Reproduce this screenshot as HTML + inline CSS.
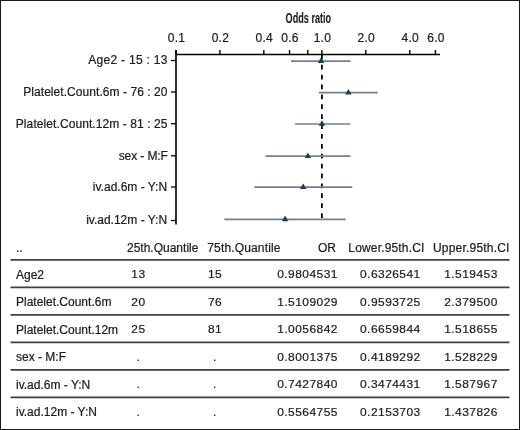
<!DOCTYPE html>
<html><head><meta charset="utf-8"><style>
html,body{margin:0;padding:0;background:#fff;}
body{width:520px;height:430px;overflow:hidden;}
svg{display:block;will-change:transform;}
text{font-family:"Liberation Sans",sans-serif;fill:#1c1c1c;stroke:#1c1c1c;stroke-width:0.22px;}
.tk{font-size:12px;letter-spacing:0.25px;}
.lb{font-size:12px;}
.tb{font-size:12px;}
.tn{font-size:12px;letter-spacing:0.45px;}
.ti{font-size:14.8px;font-weight:bold;fill:#222;stroke:#222;stroke-width:0.1px;}
</style></head><body>
<svg width="520" height="430" viewBox="0 0 520 430">
<rect x="0.5" y="0.5" width="519" height="429" fill="#fff" stroke="#1a1a1a" stroke-width="1"/>
<line x1="176.0" y1="54.5" x2="440" y2="54.5" stroke="#000" stroke-width="1.7"/>
<line x1="176.0" y1="50" x2="176.0" y2="224.6" stroke="#1a1a1a" stroke-width="1.8"/>
<line x1="176.00" y1="50" x2="176.00" y2="54.5" stroke="#000" stroke-width="1.4"/>
<text x="176.50" y="41.7" text-anchor="middle" class="tk">0.1</text>
<line x1="219.92" y1="50" x2="219.92" y2="54.5" stroke="#000" stroke-width="1.4"/>
<text x="220.42" y="41.7" text-anchor="middle" class="tk">0.2</text>
<line x1="263.84" y1="50" x2="263.84" y2="54.5" stroke="#000" stroke-width="1.4"/>
<text x="264.34" y="41.7" text-anchor="middle" class="tk">0.4</text>
<line x1="289.53" y1="50" x2="289.53" y2="54.5" stroke="#000" stroke-width="1.4"/>
<text x="290.03" y="41.7" text-anchor="middle" class="tk">0.6</text>
<line x1="307.76" y1="50" x2="307.76" y2="54.5" stroke="#000" stroke-width="1.4"/>
<line x1="321.90" y1="50" x2="321.90" y2="54.5" stroke="#000" stroke-width="1.4"/>
<text x="322.40" y="41.7" text-anchor="middle" class="tk">1.0</text>
<line x1="365.82" y1="50" x2="365.82" y2="54.5" stroke="#000" stroke-width="1.4"/>
<text x="366.32" y="41.7" text-anchor="middle" class="tk">2.0</text>
<line x1="409.74" y1="50" x2="409.74" y2="54.5" stroke="#000" stroke-width="1.4"/>
<text x="410.24" y="41.7" text-anchor="middle" class="tk">4.0</text>
<line x1="435.43" y1="50" x2="435.43" y2="54.5" stroke="#000" stroke-width="1.4"/>
<text x="435.93" y="41.7" text-anchor="middle" class="tk">6.0</text>
<line x1="171" y1="60.50" x2="176.0" y2="60.50" stroke="#000" stroke-width="1.3"/>
<text x="167.6" y="64.00" text-anchor="end" class="lb" style="letter-spacing:0.28px">Age2 - 15 : 13</text>
<line x1="171" y1="92.00" x2="176.0" y2="92.00" stroke="#000" stroke-width="1.3"/>
<text x="167.6" y="95.50" text-anchor="end" class="lb" style="letter-spacing:0.06px">Platelet.Count.6m - 76 : 20</text>
<line x1="171" y1="123.70" x2="176.0" y2="123.70" stroke="#000" stroke-width="1.3"/>
<text x="167.6" y="127.50" text-anchor="end" class="lb" style="letter-spacing:0.085px">Platelet.Count.12m - 81 : 25</text>
<line x1="171" y1="155.80" x2="176.0" y2="155.80" stroke="#000" stroke-width="1.3"/>
<text x="167.8" y="159.80" text-anchor="end" class="lb" style="letter-spacing:-0.1px">sex - M:F</text>
<line x1="171" y1="187.00" x2="176.0" y2="187.00" stroke="#000" stroke-width="1.3"/>
<text x="167.1" y="190.50" text-anchor="end" class="lb" style="letter-spacing:0.0px">iv.ad.6m - Y:N</text>
<line x1="171" y1="220.50" x2="176.0" y2="220.50" stroke="#000" stroke-width="1.3"/>
<text x="167.1" y="224.00" text-anchor="end" class="lb" style="letter-spacing:0.0px">iv.ad.12m - Y:N</text>
<line x1="321.90" y1="54.9" x2="321.90" y2="219" stroke="#000" stroke-width="1.8" stroke-dasharray="4.75 5.14"/>
<line x1="291" y1="61.10" x2="350.5" y2="61.10" stroke="#767d94" stroke-width="1.7"/>
<polygon points="321.00,57.40 324.20,62.95 317.80,62.95" fill="#163d5c"/>
<line x1="318.9" y1="92.60" x2="377.7" y2="92.60" stroke="#767d94" stroke-width="1.7"/>
<polygon points="348.40,88.90 351.60,94.45 345.20,94.45" fill="#163d5c"/>
<line x1="295.1" y1="124.00" x2="350.5" y2="124.00" stroke="#767d94" stroke-width="1.7"/>
<polygon points="322.00,120.30 325.20,125.85 318.80,125.85" fill="#163d5c"/>
<line x1="265.5" y1="156.20" x2="350.4" y2="156.20" stroke="#767d94" stroke-width="1.7"/>
<polygon points="307.90,152.50 311.10,158.05 304.70,158.05" fill="#163d5c"/>
<line x1="254.3" y1="187.10" x2="352.3" y2="187.10" stroke="#767d94" stroke-width="1.7"/>
<polygon points="303.20,183.40 306.40,188.95 300.00,188.95" fill="#163d5c"/>
<line x1="224.4" y1="219.30" x2="345.7" y2="219.30" stroke="#767d94" stroke-width="1.7"/>
<polygon points="285.10,215.60 288.30,221.15 281.90,221.15" fill="#163d5c"/>
<text x="308.4" y="23.0" text-anchor="middle" class="ti" transform="translate(308.4 0) scale(0.616 1) translate(-308.4 0)">Odds ratio</text>
<line x1="10.5" y1="259.90" x2="509.5" y2="259.90" stroke="#404040" stroke-width="1.8"/>
<line x1="10.5" y1="287.40" x2="509.5" y2="287.40" stroke="#404040" stroke-width="1.8"/>
<line x1="10.5" y1="314.90" x2="509.5" y2="314.90" stroke="#404040" stroke-width="1.8"/>
<line x1="10.5" y1="342.40" x2="509.5" y2="342.40" stroke="#404040" stroke-width="1.8"/>
<line x1="10.5" y1="369.90" x2="509.5" y2="369.90" stroke="#404040" stroke-width="1.8"/>
<line x1="10.5" y1="397.40" x2="509.5" y2="397.40" stroke="#404040" stroke-width="1.8"/>
<text x="16" y="252" class="tb">..</text>
<text x="127" y="252" class="tb">25th.Quantile</text>
<text x="207.3" y="252" class="tb" style="letter-spacing:0.15px">75th.Quantile</text>
<text x="336" y="252" class="tb" text-anchor="end">OR</text>
<text x="348.3" y="252" class="tb" style="letter-spacing:0.17px">Lower.95th.CI</text>
<text x="433" y="252" class="tb" style="letter-spacing:0.2px">Upper.95th.CI</text>
<text x="16" y="278.50" class="tb">Age2</text>
<text x="138.4" y="278.50" class="tn" text-anchor="middle" transform="translate(0 278.50) scale(1 0.93) translate(0 -278.50)">13</text>
<text x="215.0" y="278.50" class="tn" text-anchor="middle" transform="translate(0 278.50) scale(1 0.93) translate(0 -278.50)">15</text>
<text x="277.2" y="278.50" class="tn" transform="translate(0 278.50) scale(1 0.93) translate(0 -278.50)">0.9804531</text>
<text x="360" y="278.50" class="tn" transform="translate(0 278.50) scale(1 0.93) translate(0 -278.50)">0.6326541</text>
<text x="444.2" y="278.50" class="tn" transform="translate(0 278.50) scale(1 0.93) translate(0 -278.50)">1.519453</text>
<text x="16" y="306.00" class="tb">Platelet.Count.6m</text>
<text x="138.4" y="306.00" class="tn" text-anchor="middle" transform="translate(0 306.00) scale(1 0.93) translate(0 -306.00)">20</text>
<text x="215.0" y="306.00" class="tn" text-anchor="middle" transform="translate(0 306.00) scale(1 0.93) translate(0 -306.00)">76</text>
<text x="277.2" y="306.00" class="tn" transform="translate(0 306.00) scale(1 0.93) translate(0 -306.00)">1.5109029</text>
<text x="360" y="306.00" class="tn" transform="translate(0 306.00) scale(1 0.93) translate(0 -306.00)">0.9593725</text>
<text x="444.2" y="306.00" class="tn" transform="translate(0 306.00) scale(1 0.93) translate(0 -306.00)">2.379500</text>
<text x="16" y="333.50" class="tb">Platelet.Count.12m</text>
<text x="138.4" y="333.50" class="tn" text-anchor="middle" transform="translate(0 333.50) scale(1 0.93) translate(0 -333.50)">25</text>
<text x="215.0" y="333.50" class="tn" text-anchor="middle" transform="translate(0 333.50) scale(1 0.93) translate(0 -333.50)">81</text>
<text x="277.2" y="333.50" class="tn" transform="translate(0 333.50) scale(1 0.93) translate(0 -333.50)">1.0056842</text>
<text x="360" y="333.50" class="tn" transform="translate(0 333.50) scale(1 0.93) translate(0 -333.50)">0.6659844</text>
<text x="444.2" y="333.50" class="tn" transform="translate(0 333.50) scale(1 0.93) translate(0 -333.50)">1.518655</text>
<text x="16" y="361.00" class="tb">sex - M:F</text>
<text x="138.4" y="361.00" class="tn" text-anchor="middle" transform="translate(0 361.00) scale(1 0.93) translate(0 -361.00)">.</text>
<text x="215.0" y="361.00" class="tn" text-anchor="middle" transform="translate(0 361.00) scale(1 0.93) translate(0 -361.00)">.</text>
<text x="277.2" y="361.00" class="tn" transform="translate(0 361.00) scale(1 0.93) translate(0 -361.00)">0.8001375</text>
<text x="360" y="361.00" class="tn" transform="translate(0 361.00) scale(1 0.93) translate(0 -361.00)">0.4189292</text>
<text x="444.2" y="361.00" class="tn" transform="translate(0 361.00) scale(1 0.93) translate(0 -361.00)">1.528229</text>
<text x="16" y="388.50" class="tb">iv.ad.6m - Y:N</text>
<text x="138.4" y="388.50" class="tn" text-anchor="middle" transform="translate(0 388.50) scale(1 0.93) translate(0 -388.50)">.</text>
<text x="215.0" y="388.50" class="tn" text-anchor="middle" transform="translate(0 388.50) scale(1 0.93) translate(0 -388.50)">.</text>
<text x="277.2" y="388.50" class="tn" transform="translate(0 388.50) scale(1 0.93) translate(0 -388.50)">0.7427840</text>
<text x="360" y="388.50" class="tn" transform="translate(0 388.50) scale(1 0.93) translate(0 -388.50)">0.3474431</text>
<text x="444.2" y="388.50" class="tn" transform="translate(0 388.50) scale(1 0.93) translate(0 -388.50)">1.587967</text>
<text x="16" y="416.00" class="tb">iv.ad.12m - Y:N</text>
<text x="138.4" y="416.00" class="tn" text-anchor="middle" transform="translate(0 416.00) scale(1 0.93) translate(0 -416.00)">.</text>
<text x="215.0" y="416.00" class="tn" text-anchor="middle" transform="translate(0 416.00) scale(1 0.93) translate(0 -416.00)">.</text>
<text x="277.2" y="416.00" class="tn" transform="translate(0 416.00) scale(1 0.93) translate(0 -416.00)">0.5564755</text>
<text x="360" y="416.00" class="tn" transform="translate(0 416.00) scale(1 0.93) translate(0 -416.00)">0.2153703</text>
<text x="444.2" y="416.00" class="tn" transform="translate(0 416.00) scale(1 0.93) translate(0 -416.00)">1.437826</text>
</svg>
</body></html>
